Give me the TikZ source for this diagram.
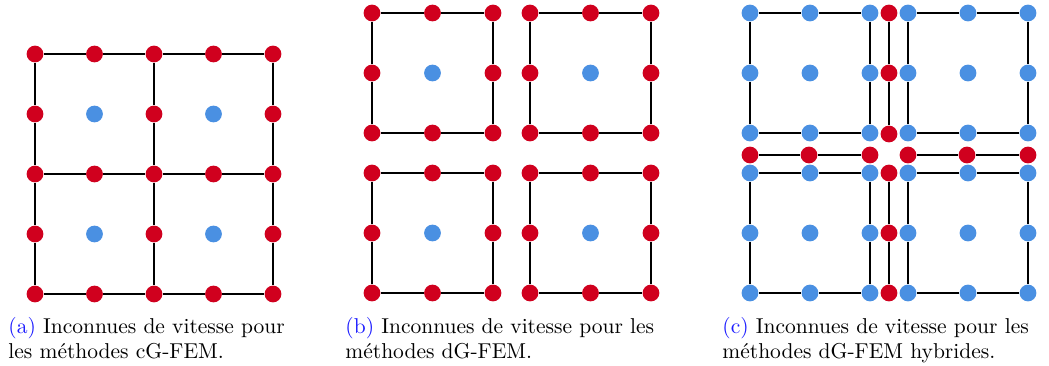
\documentclass[tikz,border=0pt]{standalone}
\usepackage{xcolor}
\definecolor{vred}{RGB}{208,0,30}
\definecolor{vblue}{RGB}{74,144,226}
\definecolor{reflink}{RGB}{30,30,255}

\begin{document}
\begin{tikzpicture}[x=0.465pt,y=-0.465pt,
        every node/.style={circle,inner sep=0pt,minimum size=7.8pt},
        rdot/.style={fill=vred},
        bdot/.style={fill=vblue},
        edge/.style={line width=0.75pt},
        capt/.style={rectangle,anchor=base west,align=left,minimum size=0pt,
            font=\fontsize{10}{11.6}\selectfont}]
    \useasboundingbox (0,0) rectangle (1049,365);

    % (a) cG-FEM
    \foreach \i in {0,...,4}
        \foreach \j in {0,...,4} {
            \pgfmathtruncatemacro\odd{mod(\i,2)*mod(\j,2)}
            \ifnum\odd=1
                \node[bdot] (a\i\j) at ({35+59.5*\i},{54+60*\j}) {};
            \else
                \node[rdot] (a\i\j) at ({35+59.5*\i},{54+60*\j}) {};
            \fi
        }
    \foreach \k in {0,2,4} {
        \draw[edge] (a0\k) -- (a1\k) -- (a2\k) -- (a3\k) -- (a4\k);
        \draw[edge] (a\k0) -- (a\k1) -- (a\k2) -- (a\k3) -- (a\k4);
    }

    % (b) dG-FEM
    \foreach \s/\ox/\oy in {1/372/13,2/530/13,3/372/173,4/530/173} {
        \foreach \i in {0,1,2}
            \foreach \j in {0,1,2} {
                \pgfmathtruncatemacro\mid{mod(\i,2)*mod(\j,2)}
                \ifnum\mid=1
                    \node[bdot] (b\s\i\j) at ({\ox+60.5*\i},{\oy+60*\j}) {};
                \else
                    \node[rdot] (b\s\i\j) at ({\ox+60.5*\i},{\oy+60*\j}) {};
                \fi
            }
        \draw[edge] (b\s00) -- (b\s10) -- (b\s20) -- (b\s21) -- (b\s22)
            -- (b\s12) -- (b\s02) -- (b\s01) -- (b\s00);
    }

    % (c) dG-FEM hybrides
    \foreach \s/\ox/\oy in {1/750/13,2/908/13,3/750/173,4/908/173} {
        \foreach \i in {0,1,2}
            \foreach \j in {0,1,2}
                \node[bdot] (c\s\i\j) at ({\ox+60*\i},{\oy+60*\j}) {};
        \draw[edge] (c\s00) -- (c\s10) -- (c\s20) -- (c\s21) -- (c\s22)
            -- (c\s12) -- (c\s02) -- (c\s01) -- (c\s00);
    }
    \foreach \n/\y in {1/13,2/73,3/134,4/173,5/233,6/293}
        \node[rdot] (cv\n) at (889,\y) {};
    \foreach \n/\x in {1/750,2/809,3/870,4/908,5/967,6/1028}
        \node[rdot] (ch\n) at (\x,155) {};
    \draw[edge] (cv1) -- (cv2) -- (cv3);
    \draw[edge] (cv4) -- (cv5) -- (cv6);
    \draw[edge] (ch1) -- (ch2) -- (ch3);
    \draw[edge] (ch4) -- (ch5) -- (ch6);

    % captions (base = last line)
    \node[capt] (capa) at (8,358) {\textcolor{reflink}{(a)} Inconnues de vitesse pour\\les méthodes cG-FEM.};
    \node[capt] (capb) at (345,358) {\textcolor{reflink}{(b)} Inconnues de vitesse pour les\\méthodes dG-FEM.};
    \node[capt] (capc) at (722,358) {\textcolor{reflink}{(c)} Inconnues de vitesse pour les\\méthodes dG-FEM hybrides.};
\end{tikzpicture}
\end{document}
